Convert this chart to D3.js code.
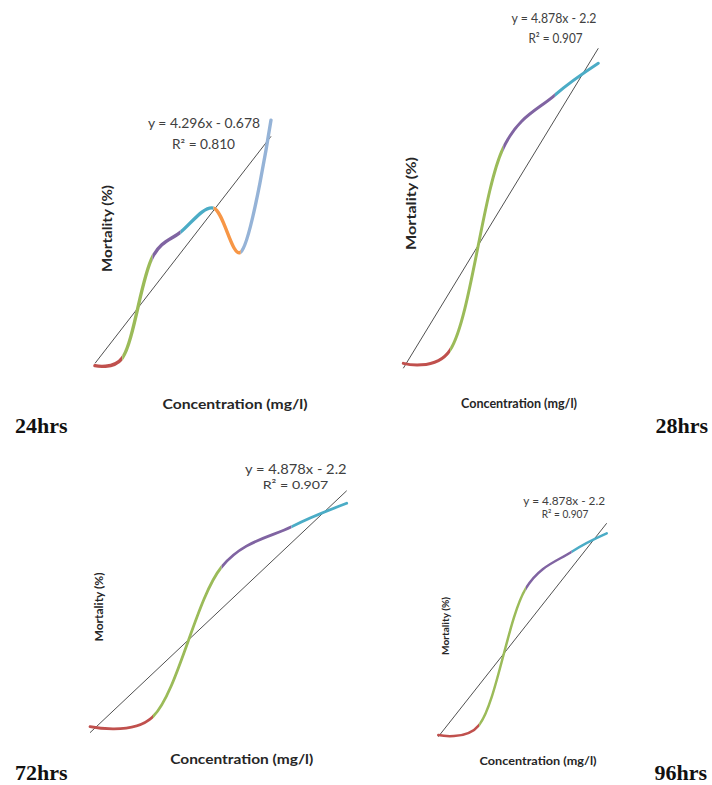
<!DOCTYPE html>
<html>
<head>
<meta charset="utf-8">
<script src="https://cdn.jsdelivr.net/npm/d3@7"></script>
<style>
  html, body { margin: 0; padding: 0; background: #fff; }
  svg { display: block; }
</style>
</head>
<body>
<svg id="chart" width="712" height="785"></svg>
<script>
// ---------------- DATA ----------------
const panelNames = ["24hrs", "28hrs", "72hrs", "96hrs"];

const conc24 = [1, 1.93, 2.96, 3.92, 5.04, 5.97, 7];
const mort24 = [3.35, 4.22, 15.69, 18.53, 21.25, 16.26, 31.24];

const conc28 = [1, 1.96, 3.05, 4.11, 5];
const mort28 = [2.98, 3.79, 16.11, 19.34, 21.28];

const conc72 = [1, 1.98, 3.05, 4.14, 5];
const mort72 = [3.16, 3.97, 16.04, 19.29, 21.18];

const conc96 = [1, 1.97, 3.08, 4.17, 5];
const mort96 = [2.83, 3.75, 16.24, 19.59, 21.27];

const slopes = [4.296, 4.878, 4.878, 4.878];
const intercepts = [-0.678, -2.2, -2.2, -2.2];
const rSquared = [0.810, 0.907, 0.907, 0.907];

const segmentColors = ["#C0504D", "#9BBB59", "#8064A2", "#4BACC6", "#F79646", "#95B3D7"];

const xTitle = "Concentration (mg/l)";
const yTitle = "Mortality (%)";

// ---------------- LAYOUT ----------------
const layouts = [
  { x: [95, 271], yDom: [0, 32], y: [395.2, 113.4], sw: 3.4,
    eq: { cx: 204, y: 128, w: 112, fs: 13 }, r2: { cx: 203.5, y: 149, w: 63, fs: 13 },
    yt: { cx: 107, cy: 228.5, w: 87, fs: 13 }, xt: { cx: 235, y: 409, w: 145, fs: 13 },
    lab: { x: 15, y: 433, anchor: "start" } },
  { x: [403.3, 598.3], yDom: [0, 25], y: [412.2, 2.2], sw: 3,
    eq: { cx: 554, y: 22.7, w: 85, fs: 14 }, r2: { cx: 555.5, y: 43.3, w: 54, fs: 14 },
    yt: { cx: 411, cy: 203.5, w: 93, fs: 14 }, xt: { cx: 519, y: 408, w: 116, fs: 13 },
    lab: { x: 708, y: 433, anchor: "end" } },
  { x: [90, 346.7], yDom: [0, 25], y: [765.9, 455.9], sw: 2.8,
    eq: { cx: 295.8, y: 473.5, w: 101.7, fs: 13 }, r2: { cx: 295.5, y: 489, w: 65.6, fs: 12 },
    yt: { cx: 99, cy: 607, w: 69, fs: 11 }, xt: { cx: 241.7, y: 764, w: 143, fs: 13 },
    lab: { x: 15, y: 780, anchor: "start" } },
  { x: [438.3, 606.7], yDom: [0, 25], y: [766.0, 492.5], sw: 2.5,
    eq: { cx: 564.2, y: 505, w: 81.7, fs: 11 }, r2: { cx: 565, y: 517.8, w: 46.6, fs: 10.5 },
    yt: { cx: 445.7, cy: 626, w: 58, fs: 10 }, xt: { cx: 538, y: 765, w: 117, fs: 11 },
    lab: { x: 707, y: 780, anchor: "end" } }
];

const concs = [conc24, conc28, conc72, conc96];
const morts = [mort24, mort28, mort72, mort96];

const svg = d3.select("#chart");
const defs = svg.append("defs");
const labelFont = "Lato, 'Open Sans', 'Liberation Sans', sans-serif";

layouts.forEach((L, pi) => {
  const xs = concs[pi], ys = morts[pi];
  const pts = xs.map((c, i) => ({ c, m: ys[i] }));
  const x = d3.scaleLinear().domain([d3.min(xs), d3.max(xs)]).range(L.x);
  const y = d3.scaleLinear().domain(L.yDom).range(L.y);
  const g = svg.append("g");

  // regression (trend) line
  const xMin = d3.min(xs), xMax = d3.max(xs);
  const a = slopes[pi], b = intercepts[pi];
  g.append("line")
    .attr("x1", x(xMin)).attr("y1", y(a * xMin + b))
    .attr("x2", x(xMax)).attr("y2", y(a * xMax + b))
    .attr("stroke", "#3c3c3c").attr("stroke-width", 0.9);

  // smoothed line, coloured per segment
  const line = d3.line().x(d => x(d.c)).y(d => y(d.m)).curve(d3.curveCatmullRom.alpha(0.25));
  const pathD = line(pts);
  for (let i = 0; i < pts.length - 1; i++) {
    const id = `clip-${pi}-${i}`;
    const x0 = x(pts[i].c) - (i === 0 ? 4 : 0);
    const x1 = x(pts[i + 1].c) + (i === pts.length - 2 ? 4 : 0);
    defs.append("clipPath").attr("id", id).append("rect")
      .attr("x", x0).attr("y", 0).attr("width", x1 - x0).attr("height", 785);
    g.append("path")
      .attr("d", pathD)
      .attr("fill", "none")
      .attr("stroke", segmentColors[i])
      .attr("stroke-width", L.sw)
      .attr("stroke-linecap", "round")
      .attr("clip-path", `url(#${id})`);
  }

  // equation & R²
  const eqText = `y = ${a}x - ${Math.abs(b)}`;
  g.append("text").text(eqText)
    .attr("x", L.eq.cx).attr("y", L.eq.y).attr("text-anchor", "middle")
    .attr("font-family", labelFont).attr("font-size", L.eq.fs).attr("fill", "#404040")
    .attr("textLength", L.eq.w).attr("lengthAdjust", "spacingAndGlyphs");
  g.append("text").text(`R² = ${rSquared[pi].toFixed(3)}`)
    .attr("x", L.r2.cx).attr("y", L.r2.y).attr("text-anchor", "middle")
    .attr("font-family", labelFont).attr("font-size", L.r2.fs).attr("fill", "#404040")
    .attr("textLength", L.r2.w).attr("lengthAdjust", "spacingAndGlyphs");

  // axis titles
  g.append("text").text(yTitle)
    .attr("transform", `translate(${L.yt.cx + L.yt.fs * 0.35},${L.yt.cy}) rotate(-90)`)
    .attr("text-anchor", "middle")
    .attr("font-family", labelFont).attr("font-weight", "bold")
    .attr("font-size", L.yt.fs).attr("fill", "#262626")
    .attr("textLength", L.yt.w).attr("lengthAdjust", "spacingAndGlyphs");
  g.append("text").text(xTitle)
    .attr("x", L.xt.cx).attr("y", L.xt.y).attr("text-anchor", "middle")
    .attr("font-family", labelFont).attr("font-weight", "bold")
    .attr("font-size", L.xt.fs).attr("fill", "#262626")
    .attr("textLength", L.xt.w).attr("lengthAdjust", "spacingAndGlyphs");

  // panel label
  g.append("text").text(panelNames[pi])
    .attr("x", L.lab.x).attr("y", L.lab.y).attr("text-anchor", L.lab.anchor)
    .attr("font-family", "'Liberation Serif', 'Times New Roman', serif")
    .attr("font-weight", "bold").attr("font-size", 22).attr("fill", "#111");
});
</script>
</body>
</html>
